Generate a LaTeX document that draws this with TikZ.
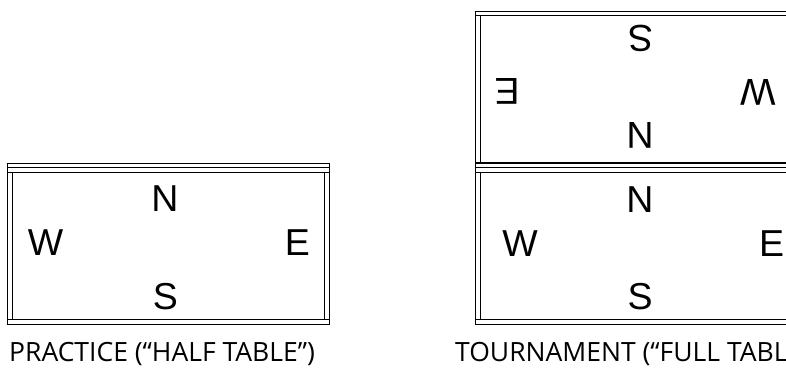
\documentclass[tikz,border=0pt]{standalone}
\usepackage{fontspec}
\setmainfont{Liberation Sans}
\newfontfamily\capfont{Open Sans}
\begin{document}
\begin{tikzpicture}[x=1pt,y=-1pt,
  tbl/.style={line width=0.9pt, draw=black},
  dir/.style={font=\fontsize{37.5}{40}\selectfont, inner sep=0pt, anchor=center},
  captxt/.style={font=\capfont\fontsize{26.5}{30}\selectfont, inner sep=0pt},
  pics/halftable/.style={code={
    \draw[tbl] (0,0) rectangle (322,161);
    \draw[tbl] (0,4.5) -- (322,4.5) (0,9.5) -- (322,9.5) (0,156.5) -- (322,156.5);
    \draw[tbl] (5,9.5) -- (5,156.5) (317,9.5) -- (317,156.5);
  }}]
\useasboundingbox (0,0) rectangle (786,368);
\clip (0,0) rectangle (786,368);
% practice table
\pic (tA) at (7,163) {halftable};
\node[dir] (aN) at (165,198.5) {N};
\node[dir] (aW) at (45.5,243) {W};
\node[dir] (aE) at (297.5,243) {E};
\node[dir] (aS) at (165.5,297) {S};
\node[captxt, anchor=base west] (capA) at (9,361) {PRACTICE (“HALF TABLE”)};
% tournament table, lower half
\pic (tB) at (475,163) {halftable};
\node[dir] (bN) at (640,200) {N};
\node[dir] (bW) at (520,243.5) {W};
\node[dir] (bE) at (771.5,243.5) {E};
\node[dir] (bS) at (640,297) {S};
% tournament table, upper half (rotated)
\pic[rotate=180] (tC) at (797,172) {halftable};
\node[dir, rotate=180] (cS) at (640.5,38.5) {S};
\node[dir, rotate=180] (cE) at (507,91.5) {E};
\node[dir, rotate=180] (cW) at (758,92) {W};
\node[dir, rotate=180] (cN) at (640,135.5) {N};
\node[captxt, anchor=base west] (capB) at (455,361) {TOURNAMENT (“FULL TABLE”)};
\end{tikzpicture}
\end{document}
